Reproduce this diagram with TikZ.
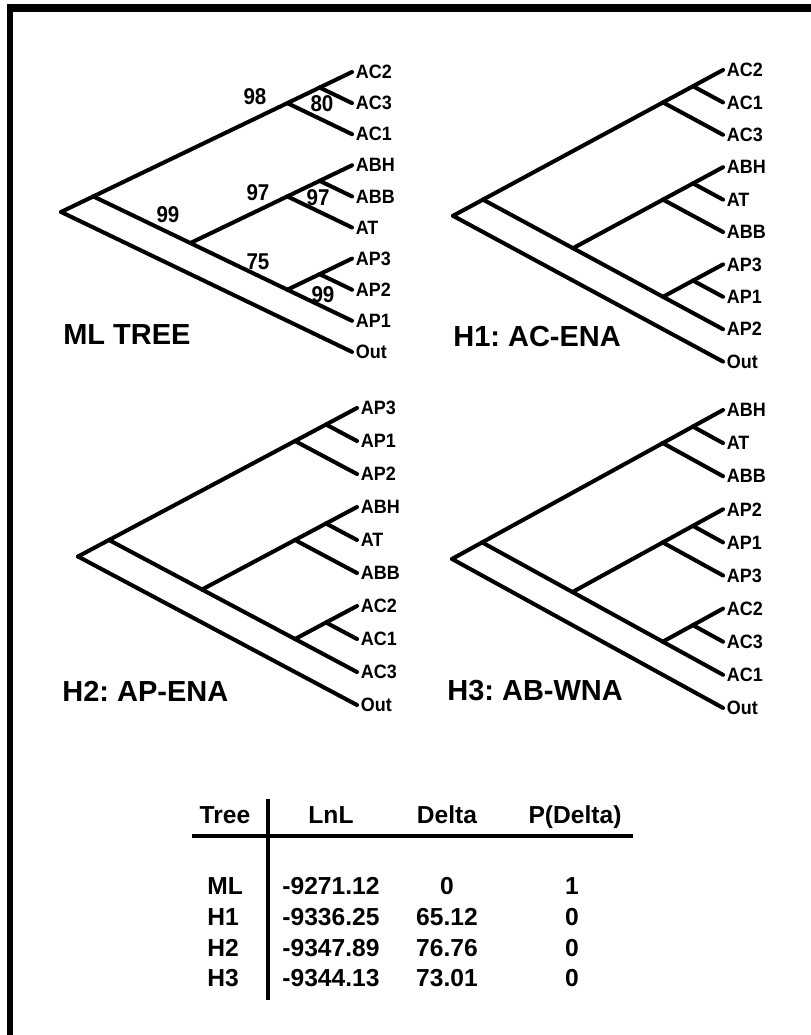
\documentclass[tikz,border=0pt]{standalone}
\usepackage{fontspec}
\setmainfont{Liberation Sans}
\usepackage{tikz}
\usetikzlibrary{positioning,calc}
\frenchspacing

% slanted cladogram: #1 prefix, #2 root x, #3 tip x, #4 top tip y, #5 tip step, #6 tip labels
\newcommand{\cladetree}[6]{%
  \foreach \lab [count=\i from 0] in {#6} {
    \coordinate (#1t\i) at (#3,{#4+\i*#5});
    \node[tiplab] (#1l\i) at (#1t\i) {\lab};
  }
  \foreach \a/\b in {0/1,0/2,3/4,3/5,6/7,6/8,3/8,0/8,0/9}
    \coordinate (#1n\a\b) at ({#3-(\b-\a)/9*(#3-#2)},{#4+(\a+\b)/2*#5});
  \foreach \p/\c in {n09/n08,n09/t9,n08/n02,n08/n38,n02/n01,n02/t2,n01/t0,n01/t1,
                     n38/n35,n38/n68,n35/n34,n35/t5,n34/t3,n34/t4,n68/n67,n68/t8,n67/t6,n67/t7}
    \draw[branch] (#1\p) -- (#1\c);
}

\begin{document}
\begin{tikzpicture}[x=0.02cm,y=-0.02cm,
    branch/.style={line width=2.3pt,line cap=round,line join=round},
    tiplab/.style={anchor=west,inner sep=0pt,xshift=2pt,xscale=0.93,font=\fontsize{11}{12}\selectfont\bfseries},
    boot/.style={inner sep=0pt,xscale=0.9,font=\fontsize{13}{14}\selectfont\bfseries},
    title/.style={anchor=west,inner sep=0pt,font=\fontsize{16.5}{19}\selectfont\bfseries},
    cell/.style={anchor=base,inner sep=0pt,font=\fontsize{14}{16}\selectfont\bfseries}]
  \useasboundingbox (0,0) rectangle (811,1035);
  % --- frame (top and left only) ---
  \fill (7,4) rectangle (811,12);
  \fill (7,4) rectangle (13,1035);

  % --- the four trees ---
  \cladetree{ml}{61}{352}{72}{31.1}{AC2,AC3,AC1,ABH,ABB,AT,AP3,AP2,AP1,Out}
  \cladetree{ha}{453}{723}{70}{32.4}{AC2,AC1,AC3,ABH,AT,ABB,AP3,AP1,AP2,Out}
  \cladetree{hb}{78}{357}{408}{33}{AP3,AP1,AP2,ABH,AT,ABB,AC2,AC1,AC3,Out}
  \cladetree{hc}{452}{723}{410}{33.1}{ABH,AT,ABB,AP2,AP1,AP3,AC2,AC3,AC1,Out}

  % bootstrap values on the ML tree
  \node[boot] (b98)  at (255,97)  {98};
  \node[boot] (b80)  at (322,104) {80};
  \node[boot] (b97a) at (258,193) {97};
  \node[boot] (b97b) at (318,198) {97};
  \node[boot] (b99a) at (168,215) {99};
  \node[boot] (b75)  at (258,262) {75};
  \node[boot] (b99b) at (323,295) {99};

  % titles
  \node[title] (tml) at (63,335)  {ML TREE};
  \node[title] (tha) at (453,337) {H1: AC-ENA};
  \node[title] (thb) at (62,691)  {H2: AP-ENA};
  \node[title] (thc) at (447,691) {H3: AB-WNA};

  % --- likelihood table ---
  \draw[line width=2.8pt] (268,799) -- (268,1000);
  \draw[line width=2.3pt] (192,836) -- (633,836);
  \node[cell] (hTree)  at (225,823) {Tree};
  \node[cell] (hLnL)   at (331,823) {LnL};
  \node[cell] (hDelta) at (447,823) {Delta};
  \node[cell] (hP)     at (575,823) {P(Delta)};
  \foreach \t/\l/\d/\p [count=\r] in {ML/-9271.12/0/1,H1/-9336.25/65.12/0,H2/-9347.89/76.76/0,H3/-9344.13/73.01/0} {
    \node[cell,anchor=base west] (r\r t) at (207,{864+\r*30.7}) {\t};
    \node[cell] (r\r l) at (331,{864+\r*30.7}) {\l};
    \node[cell] (r\r d) at (447,{864+\r*30.7}) {\d};
    \node[cell] (r\r p) at (572,{864+\r*30.7}) {\p};
  }
\end{tikzpicture}
\end{document}
